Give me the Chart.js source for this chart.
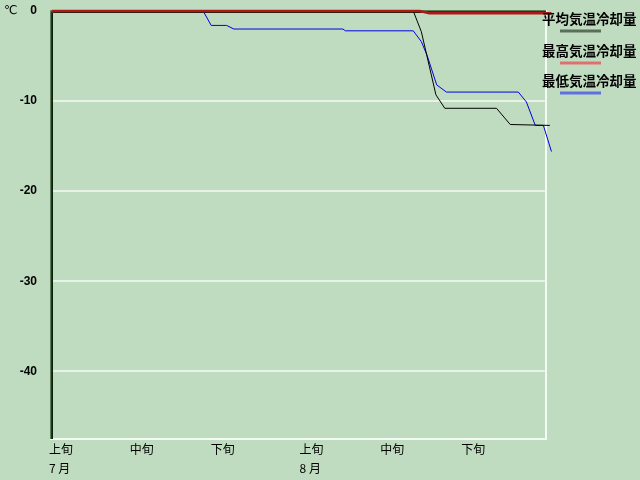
<!DOCTYPE html>
<html>
<head>
<meta charset="utf-8">
<script src="https://cdn.jsdelivr.net/npm/chart.js@4/dist/chart.umd.min.js"></script>
<style>
html,body{margin:0;padding:0;background:#c0dcc0;}
canvas{display:block;}
</style>
</head>
<body>
<canvas id="c" width="640" height="480"></canvas>
<script>
// Series names
const seriesNames = ['平均気温冷却量', '最高気温冷却量', '最低気温冷却量'];

// Day index (0 = 7月1日) and values (℃)
const avgDays = [0, 44.7, 45.7, 47.5, 48.6, 55.0, 56.7, 61.6];
const avgVals = [0, 0, -2.3, -9.3, -10.8, -10.8, -12.6, -12.7];

const maxDays = [0, 45.5, 46.7, 61.8];
const maxVals = [0, 0, -0.25, -0.25];

const minDays = [0, 18.7, 19.7, 21.6, 22.5, 36.0, 36.3, 44.7, 45.7, 46.4, 47.6, 48.8, 57.7, 58.7, 59.8, 60.8, 61.8];
const minVals = [0, 0, -1.6, -1.6, -2.0, -2.0, -2.2, -2.2, -3.4, -4.9, -8.2, -9.0, -9.0, -10.1, -12.7, -12.7, -15.6];

// X axis ticks
const tickDays = [0, 10, 20, 31, 41, 51];
const tickLabels = ['上旬', '中旬', '下旬', '上旬', '中旬', '下旬'];
const monthLabels = ['7 月', '', '', '8 月', '', ''];

// Y axis ticks
const yTicks = [0, -10, -20, -30, -40];

function pts(xs, ys) { return xs.map((x, i) => ({ x: x, y: ys[i] })); }

const bgPlugin = {
  id: 'bg',
  beforeDraw(chart) {
    const ctx = chart.ctx;
    ctx.save();
    ctx.fillStyle = '#c0dcc0';
    ctx.fillRect(0, 0, chart.width, chart.height);
    ctx.restore();
  }
};

const framePlugin = {
  id: 'frame',
  beforeDatasetsDraw(chart) {
    const a = chart.chartArea, ctx = chart.ctx;
    ctx.save();
    // white right & bottom
    ctx.strokeStyle = '#f4fbf4';
    ctx.lineWidth = 2;
    ctx.beginPath();
    ctx.moveTo(a.right + 1, a.top - 1);
    ctx.lineTo(a.right + 1, a.bottom + 1);
    ctx.lineTo(a.left - 2, a.bottom + 1);
    ctx.stroke();
    // dark bevel left & top
    const cols = ['#5c7c5c', '#1c3a1c', '#0a220a'];
    for (let i = 0; i < 3; i++) {
      ctx.strokeStyle = cols[i];
      ctx.lineWidth = 1;
      ctx.beginPath();
      ctx.moveTo(a.left - 2 + i + 0.5, a.bottom + 1);
      ctx.lineTo(a.left - 2 + i + 0.5, a.top - 1 + i + 0.5);
      ctx.lineTo(a.right + 1, a.top - 1 + i + 0.5);
      ctx.stroke();
    }
    ctx.restore();
  }
};

const legendPlugin = {
  id: 'customLegend',
  afterDraw(chart) {
    const ctx = chart.ctx;
    const cols = ['#5a6e5a', '#e07070', '#6070e0'];
    const ys = [19, 51, 81];
    ctx.save();
    ctx.font = 'bold 13.5px "Noto Sans CJK JP"';
    ctx.textBaseline = 'middle';
    ctx.textAlign = 'left';
    ctx.fillStyle = '#000';
    seriesNames.forEach((n, i) => {
      ctx.fillText(n, 542, ys[i]);
      ctx.strokeStyle = cols[i];
      ctx.lineWidth = 3;
      ctx.beginPath();
      ctx.moveTo(560, ys[i] + 12);
      ctx.lineTo(601, ys[i] + 12);
      ctx.stroke();
    });
    ctx.font = '12px "DejaVu Sans"';
    ctx.fillText('℃', 4, 11);
    ctx.restore();
  }
};

new Chart(document.getElementById('c'), {
  type: 'line',
  data: {
    datasets: [
      { label: seriesNames[1], data: pts(maxDays, maxVals), borderColor: '#b01818', borderWidth: 2.5, pointRadius: 0, clip: false, tension: 0 },
      { label: seriesNames[0], data: pts(avgDays, avgVals), borderColor: '#000000', borderWidth: 1, pointRadius: 0, clip: false, tension: 0 },
      { label: seriesNames[2], data: pts(minDays, minVals), borderColor: '#0000e0', borderWidth: 1, pointRadius: 0, clip: false, tension: 0 }
    ]
  },
  options: {
    responsive: false,
    animation: false,
    layout: { padding: { top: 11, right: 95, left: 0, bottom: 0 } },
    plugins: { legend: { display: false }, tooltip: { enabled: false } },
    scales: {
      x: {
        type: 'linear',
        min: 0,
        max: 61,
        afterBuildTicks(scale) { scale.ticks = tickDays.map(v => ({ value: v })); },
        afterFit(scale) { scale.height = 42; scale.paddingLeft = 0; scale.paddingRight = 0; },
        grid: { display: false, drawTicks: false },
        border: { display: false },
        ticks: {
          autoSkip: false,
          maxRotation: 0,
          align: 'start',
          labelOffset: -3,
          padding: 2,
          color: '#000',
          font: { family: '"Noto Sans CJK JP"', size: 12, lineHeight: 1.6 },
          callback(v) {
            const i = tickDays.indexOf(v);
            if (i < 0) return '';
            return [tickLabels[i], monthLabels[i]];
          }
        }
      },
      y: {
        min: -47.4,
        max: 0,
        afterBuildTicks(scale) { scale.ticks = yTicks.map(v => ({ value: v })); },
        afterFit(scale) { scale.width = 52; scale.paddingTop = 0; scale.paddingBottom = 0; },
        grid: { color: '#e6f2e6', lineWidth: 2, drawTicks: false },
        border: { display: false },
        ticks: {
          padding: 15,
          color: '#000',
          font: { family: '"Liberation Sans"', size: 12, weight: 'bold' },
          callback(v) { return String(v); }
        }
      }
    }
  },
  plugins: [bgPlugin, framePlugin, legendPlugin]
});
</script>
</body>
</html>
